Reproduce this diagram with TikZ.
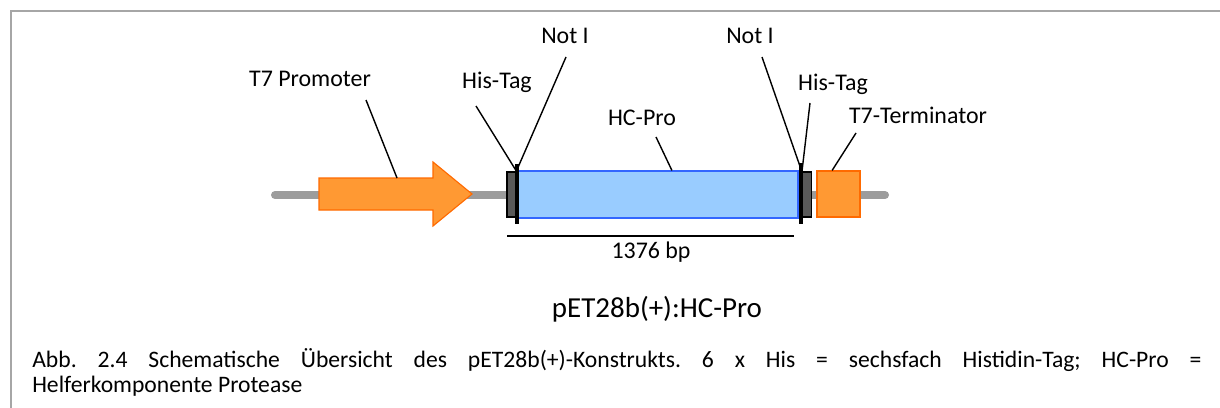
\documentclass[tikz,border=0pt]{standalone}
\usepackage{fontspec}
\setmainfont{Carlito}
\usepackage{tikz}
\usetikzlibrary{arrows.meta,positioning}
\definecolor{backgray}{HTML}{9C9C9C}
\definecolor{framegray}{HTML}{A6A6A6}
\definecolor{promorange}{HTML}{FF9933}
\definecolor{edgeorange}{HTML}{FF6A00}
\definecolor{cdsblue}{HTML}{99CCFF}
\definecolor{edgeblue}{HTML}{3366FF}
\definecolor{tagdark}{HTML}{595959}
\frenchspacing
\tikzset{
  backbone/.style={draw=backgray,line width=.2cm,line cap=round},
  promoter/.style={draw=edgeorange,fill=promorange,line width=.8pt},
  cdsbox/.style={draw=edgeblue,fill=cdsblue,line width=.8pt,inner sep=0pt,minimum width=7.025cm,minimum height=1.175cm},
  tagbox/.style={draw=black,fill=tagdark,line width=.9pt,inner sep=0pt,minimum width=.22cm,minimum height=1.125cm},
  sitebar/.style={fill=black,inner sep=0pt,minimum width=.1cm,minimum height=1.5cm},
  termbox/.style={draw=edgeorange,fill=promorange,line width=.8pt,inner sep=0pt,minimum width=1.075cm,minimum height=1.15cm},
  leader/.style={line width=1pt},
  lbl/.style={anchor=base,inner sep=0pt,font=\fontsize{17}{20}\selectfont},
  caption/.style={anchor=base west,inner sep=0pt,font=\fontsize{16.8}{20}\selectfont},
  frameline/.style={draw=framegray,line width=1.4pt},
}
\begin{document}
\begin{tikzpicture}[x=0.025cm,y=-0.025cm]
    \useasboundingbox[fill=white] (0,0) rectangle (1220,407);
    \draw[frameline] (11,420) -- (11,11) -- (1230,11);
    \draw[backbone] (275,195) -- (885,195);
    \draw[promoter] (319,178) -- (433,178) -- (433,162) -- (472,194) -- (433,226) -- (433,210) -- (319,210) -- cycle;
    \coordinate (promtop) at (397,178);
    \node[cdsbox] (cds) at (657.5,194.5) {};
    \node[tagbox] (his1) at (511.5,194.5) {};
    \node[sitebar] (not1) at (517,194) {};
    \node[sitebar] (not2) at (801,193.5) {};
    \node[tagbox] (his2) at (807,194.5) {};
    \node[termbox] (term) at (838.5,194) {};
    \node[lbl] (lprom) at (310,87) {T7 Promoter};
    \node[lbl] (lhis1) at (497,89) {His-Tag};
    \node[lbl] (lnot1) at (565,44) {Not I};
    \node[lbl] (lcds) at (642,125) {HC-Pro};
    \node[lbl] (lnot2) at (750,44) {Not I};
    \node[lbl] (lhis2) at (833,90) {His-Tag};
    \node[lbl] (lterm) at (918,123) {T7-Terminator};
    \coordinate (cprom) at (366,100); \coordinate (chis1) at (476,106);
    \coordinate (cnot1) at (566,57); \coordinate (ccds) at (656,137);
    \coordinate (cnot2) at (762,57); \coordinate (chis2) at (810,103);
    \coordinate (cterm) at (856,133);
    \draw[leader] (cprom) -- (promtop);
    \draw[leader] (chis1) -- (his1.north east);
    \draw[leader] (cnot1) -- ([yshift=-.15cm]not1.north);
    \draw[leader] (ccds) -- ([xshift=.36cm]cds.north);
    \draw[leader] (cnot2) -- ([yshift=-.15cm]not2.north);
    \draw[leader] (chis2) -- (his2.north west);
    \draw[leader] (cterm) -- ([xshift=-.16cm]term.north);
    \coordinate (bpl) at (507,236); \coordinate (bpr) at (794,236);
    \draw[leader] (bpl) -- (bpr);
    \node[lbl] (bp) at (651,258) {1376 bp};
    \node[anchor=base,inner sep=0pt,font=\fontsize{20.6}{24}\selectfont] (title) at (657,317) {pET28b(+):HC-Pro};
    \node[caption] (cap1) at (32,367) {\makebox[29.225cm][s]{Abb. 2.4 Schematische Übersicht des pET28b(+)-Konstrukts. 6 x His = sechsfach Histidin-Tag; HC-Pro =}};
    \node[caption] (cap2) at (32,392) {Helferkomponente Protease};
  \end{tikzpicture}
\end{document}
